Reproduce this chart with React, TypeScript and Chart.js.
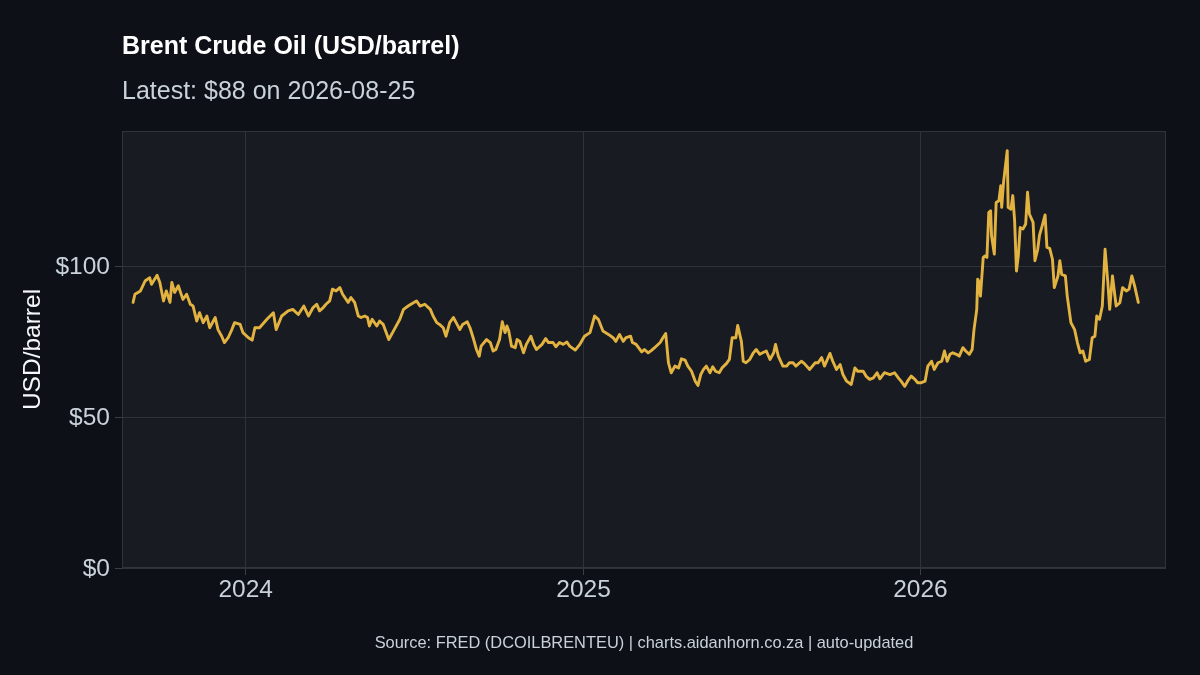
import React, { useEffect, useRef } from "react";
import { Chart, registerables } from "chart.js";

Chart.register(...registerables);

const TITLE = "Brent Crude Oil (USD/barrel)";
const SUBTITLE = "Latest: $88 on 2026-08-25";
const CAPTION = "Source: FRED (DCOILBRENTEU) | charts.aidanhorn.co.za | auto-updated";
const Y_TITLE = "USD/barrel";

const yTicks = [0, 50, 100];
const xTickYears = [2024, 2025, 2026];
const xRange = ["2023-08-20", "2026-09-24"];
const yMax = 144.8;

const dates = [
  "2023-09-01","2023-09-03","2023-09-09","2023-09-14","2023-09-19","2023-09-21","2023-09-27","2023-09-30",
  "2023-10-04","2023-10-07","2023-10-11","2023-10-13","2023-10-16","2023-10-20","2023-10-25","2023-10-29",
  "2023-11-02","2023-11-05","2023-11-09","2023-11-12","2023-11-16","2023-11-20","2023-11-23","2023-11-29",
  "2023-12-02","2023-12-06","2023-12-09","2023-12-13","2023-12-17","2023-12-20","2023-12-26","2023-12-29",
  "2024-01-04","2024-01-08","2024-01-11","2024-01-16","2024-01-24","2024-01-31",
  "2024-02-03","2024-02-09","2024-02-16","2024-02-21","2024-02-27",
  "2024-03-04","2024-03-09","2024-03-14","2024-03-18","2024-03-21","2024-03-25","2024-03-28",
  "2024-04-01","2024-04-04","2024-04-08","2024-04-12","2024-04-15","2024-04-21","2024-04-24","2024-04-28",
  "2024-05-02","2024-05-05","2024-05-09","2024-05-12","2024-05-14","2024-05-17","2024-05-22","2024-05-25","2024-05-29",
  "2024-06-04","2024-06-09","2024-06-16","2024-06-20","2024-06-25","2024-06-28",
  "2024-07-04","2024-07-08","2024-07-13","2024-07-19","2024-07-22","2024-07-26","2024-07-29",
  "2024-08-02","2024-08-05","2024-08-09","2024-08-13","2024-08-16","2024-08-20","2024-08-23","2024-08-28","2024-08-31",
  "2024-09-04","2024-09-07","2024-09-10","2024-09-12","2024-09-18","2024-09-22","2024-09-25","2024-09-28",
  "2024-10-02","2024-10-05","2024-10-08","2024-10-10","2024-10-12","2024-10-15","2024-10-19","2024-10-21","2024-10-24","2024-10-28","2024-10-31",
  "2024-11-05","2024-11-08","2024-11-11","2024-11-17","2024-11-21","2024-11-24","2024-11-29",
  "2024-12-02","2024-12-06","2024-12-10","2024-12-14","2024-12-17","2024-12-23","2024-12-28",
  "2025-01-02","2025-01-08","2025-01-13","2025-01-17","2025-01-22","2025-01-28",
  "2025-02-02","2025-02-05","2025-02-09","2025-02-13","2025-02-16","2025-02-21","2025-02-23","2025-02-27",
  "2025-03-05","2025-03-08","2025-03-12","2025-03-16","2025-03-19","2025-03-25","2025-03-28","2025-03-31",
  "2025-04-03","2025-04-06","2025-04-10","2025-04-14","2025-04-17","2025-04-21","2025-04-24","2025-04-28",
  "2025-05-02","2025-05-05","2025-05-08","2025-05-11","2025-05-14","2025-05-18","2025-05-21","2025-05-24","2025-05-28","2025-05-31",
  "2025-06-05","2025-06-08","2025-06-11","2025-06-15","2025-06-17","2025-06-21","2025-06-23","2025-06-26","2025-06-30",
  "2025-07-04","2025-07-07","2025-07-11","2025-07-14","2025-07-18","2025-07-22","2025-07-26","2025-07-28","2025-07-31",
  "2025-08-05","2025-08-09","2025-08-12","2025-08-16","2025-08-19","2025-08-25","2025-08-28",
  "2025-09-03","2025-09-09","2025-09-12","2025-09-16","2025-09-19","2025-09-25","2025-09-28",
  "2025-10-02","2025-10-06","2025-10-09","2025-10-13","2025-10-18","2025-10-22","2025-10-25","2025-10-31",
  "2025-11-03","2025-11-07","2025-11-11","2025-11-15","2025-11-18","2025-11-23","2025-11-29",
  "2025-12-04","2025-12-08","2025-12-11","2025-12-15","2025-12-18","2025-12-22","2025-12-26","2025-12-29",
  "2026-01-02","2026-01-06","2026-01-09","2026-01-13","2026-01-16","2026-01-20","2026-01-24","2026-01-27","2026-01-30",
  "2026-02-02","2026-02-05","2026-02-09","2026-02-12","2026-02-16","2026-02-19","2026-02-23","2026-02-26","2026-02-28",
  "2026-03-03","2026-03-04","2026-03-05","2026-03-07","2026-03-10","2026-03-12","2026-03-14","2026-03-16","2026-03-18",
  "2026-03-19","2026-03-22","2026-03-24","2026-03-27","2026-03-29","2026-03-30",
  "2026-04-01","2026-04-05","2026-04-06","2026-04-09","2026-04-11","2026-04-13","2026-04-15","2026-04-17","2026-04-19",
  "2026-04-22","2026-04-25","2026-04-27","2026-04-29",
  "2026-05-03","2026-05-05","2026-05-08","2026-05-10","2026-05-13","2026-05-16","2026-05-18","2026-05-21","2026-05-24",
  "2026-05-26","2026-05-30",
  "2026-06-01","2026-06-03","2026-06-07","2026-06-09","2026-06-13","2026-06-17","2026-06-20","2026-06-23","2026-06-26","2026-06-29",
  "2026-07-03","2026-07-06","2026-07-09","2026-07-11","2026-07-14","2026-07-17","2026-07-20","2026-07-23","2026-07-25","2026-07-28",
  "2026-08-01","2026-08-05","2026-08-08","2026-08-12","2026-08-15","2026-08-18","2026-08-21","2026-08-25",
];

const prices = [
  88.0, 90.7, 91.8, 95.1, 96.2, 94.0, 97.0, 94.6,
  88.5, 91.8, 88.0, 94.6, 91.3, 93.5, 89.0, 90.7,
  87.4, 86.8, 81.8, 84.6, 81.3, 83.5, 79.6, 83.0,
  79.0, 76.8, 74.7, 76.3, 79.0, 81.3, 80.7, 78.0,
  76.3, 75.5, 79.6, 79.6, 82.4, 84.6,
  79.0, 83.5, 85.2, 85.7, 84.0,
  86.8, 83.5, 86.3, 87.4, 85.2, 86.3, 87.4,
  88.5, 92.4, 91.8, 92.9, 90.7, 88.0, 89.6, 88.0,
  83.5, 83.0, 83.5, 83.0, 80.2, 82.4, 80.2, 81.8, 80.7,
  75.7, 78.5, 82.4, 85.7, 86.8, 87.4,
  88.5, 86.8, 87.4, 85.7, 83.5, 81.3, 80.7,
  79.6, 76.8, 81.3, 83.0, 81.3, 79.0, 80.7, 81.6, 79.6,
  75.7, 72.4, 70.2, 73.5, 75.7, 74.7, 71.9, 72.4,
  75.7, 81.6, 78.0, 80.2, 78.5, 73.5, 73.0, 75.7, 75.1, 71.3, 74.1,
  76.8, 74.1, 72.4, 74.1, 76.0, 74.7, 74.7,
  73.3, 74.7, 74.1, 74.9, 73.5, 72.2, 74.1,
  76.8, 78.0, 83.5, 82.4, 78.5, 77.4,
  76.3, 75.1, 77.4, 75.1, 76.3, 76.8, 74.7, 74.1,
  71.6, 72.4, 71.3, 72.2, 73.0, 74.7, 76.3, 77.7,
  68.0, 64.7, 66.9, 66.3, 69.3, 68.9, 66.9, 65.2,
  61.9, 60.5, 64.1, 65.8, 66.9, 64.7, 66.7, 65.2, 64.7, 66.3,
  67.8, 69.1, 76.3, 76.3, 80.4, 75.1, 68.5, 68.0, 69.1,
  71.3, 72.4, 70.8, 71.3, 71.9, 69.1, 71.3, 74.1, 70.2,
  66.9, 66.9, 68.0, 68.0, 66.9, 68.5, 67.8,
  65.8, 68.0, 68.0, 69.7, 66.9, 71.1, 68.5,
  65.8, 67.4, 64.1, 61.9, 60.8, 66.3, 65.2, 65.2,
  63.6, 62.5, 63.0, 64.7, 62.7, 64.7, 64.1,
  64.7, 63.0, 61.9, 60.2, 61.9, 63.6, 62.5, 61.4,
  61.4, 61.9, 66.9, 68.5, 65.8, 68.0, 68.5, 71.9, 68.5,
  70.8, 71.3, 70.8, 70.2, 73.0, 71.9, 70.8, 72.4, 79.0,
  85.7, 95.7, 95.1, 90.1, 102.9, 103.4, 102.9, 117.8, 118.4,
  110.1, 104.0, 121.1, 121.7, 126.7, 119.5,
  127.8, 138.3, 119.5, 118.9, 123.4, 115.1, 98.4, 103.4, 112.8,
  112.3, 114.0, 124.5, 117.3,
  114.5, 101.8, 105.6, 110.3, 113.5, 117.0, 106.2, 105.9, 102.3,
  92.9, 96.8,
  101.8, 97.3, 96.8, 90.1, 81.3, 79.0, 74.7, 71.3, 71.9, 68.5,
  69.1, 76.3, 76.8, 83.5, 82.4, 86.8, 105.6, 94.6, 85.7, 96.8,
  86.8, 87.9, 92.9, 91.8, 92.4, 96.8, 93.5, 88.0,
];

const FONT = "'Liberation Sans', Arial, Helvetica, sans-serif";
const PAGE_BG = "#0d1117";
const PANEL_BG = "#181b21";
const PANEL_BORDER = "#30353c";
const GRID = "#2e333a";
const TICK_MARK = "#3a3f46";
const LINE = "#e3b341";
const TEXT_MAIN = "#f5f7fa";
const TEXT_SUB = "#c9d1d9";

const toMs = (s: string) => {
  const [y, m, d] = s.split("-").map(Number);
  return Date.UTC(y, m - 1, d);
};

const decorPlugin = {
  id: "decor",
  beforeDraw(chart: any) {
    const { ctx, chartArea: a, width, height } = chart;
    ctx.save();
    ctx.fillStyle = PAGE_BG;
    ctx.fillRect(0, 0, width, height);
    ctx.fillStyle = PANEL_BG;
    ctx.fillRect(a.left, a.top, a.right - a.left, a.bottom - a.top);
    ctx.restore();
  },
  afterDraw(chart: any) {
    const { ctx, chartArea: a } = chart;
    ctx.save();
    ctx.strokeStyle = PANEL_BORDER;
    ctx.lineWidth = 1;
    ctx.strokeRect(a.left + 0.5, a.top + 0.5, a.right - a.left - 1, a.bottom - a.top - 1);

    ctx.textBaseline = "alphabetic";
    ctx.textAlign = "left";
    ctx.fillStyle = "#ffffff";
    ctx.font = `bold 25px ${FONT}`;
    ctx.fillText(TITLE, a.left, 54);
    ctx.fillStyle = TEXT_SUB;
    ctx.font = `25px ${FONT}`;
    ctx.fillText(SUBTITLE, a.left, 99);

    ctx.textAlign = "center";
    ctx.font = `16.4px ${FONT}`;
    ctx.fillText(CAPTION, (a.left + a.right) / 2, 648);
    ctx.restore();
  },
};

export default function App() {
  const ref = useRef<HTMLCanvasElement | null>(null);

  useEffect(() => {
    if (!ref.current) return;
    Chart.defaults.font.family = FONT;
    const points = dates.map((d, i) => ({ x: toMs(d), y: prices[i] }));
    const chart = new Chart(ref.current, {
      type: "line",
      data: {
        datasets: [
          {
            data: points,
            borderColor: LINE,
            borderWidth: 2.9,
            borderJoinStyle: "round",
            borderCapStyle: "round",
            pointRadius: 0,
            tension: 0,
            fill: false,
          },
        ],
      },
      options: {
        responsive: false,
        animation: false,
        devicePixelRatio: 1,
        layout: { padding: { left: 0, right: 34, top: 131, bottom: 57 } },
        plugins: {
          legend: { display: false },
          tooltip: { enabled: false },
          title: { display: false },
        },
        scales: {
          x: {
            type: "linear",
            min: toMs(xRange[0]),
            max: toMs(xRange[1]),
            afterBuildTicks: (scale: any) => {
              scale.ticks = xTickYears.map((y) => ({ value: Date.UTC(y, 0, 1) }));
            },
            afterFit: (scale: any) => {
              scale.height = 50;
            },
            ticks: {
              autoSkip: false,
              maxRotation: 0,
              padding: 1,
              color: TEXT_SUB,
              font: { size: 24.5 },
              callback: (v: any) => String(new Date(Number(v)).getUTCFullYear()),
            },
            grid: {
              color: GRID,
              tickColor: TICK_MARK,
              tickLength: 7,
              lineWidth: 1,
            },
            border: { display: false },
          },
          y: {
            type: "linear",
            min: 0,
            max: yMax,
            afterBuildTicks: (scale: any) => {
              scale.ticks = yTicks.map((v) => ({ value: v }));
            },
            afterFit: (scale: any) => {
              scale.width = 122;
            },
            ticks: {
              padding: 5,
              labelOffset: 1.5,
              color: TEXT_SUB,
              font: { size: 24.5 },
              callback: (v: any) => "$" + v,
            },
            grid: {
              color: GRID,
              tickColor: TICK_MARK,
              tickLength: 7,
              lineWidth: 1,
            },
            border: { display: false },
            title: {
              display: true,
              text: Y_TITLE,
              color: TEXT_MAIN,
              font: { size: 24.5 },
              padding: { top: 19, bottom: 0 },
            },
          },
        },
      },
      plugins: [decorPlugin],
    } as any);
    return () => chart.destroy();
  }, []);

  return (
    <div
      style={{
        position: "fixed",
        left: 0,
        top: 0,
        width: 1200,
        height: 675,
        background: PAGE_BG,
        overflow: "hidden",
      }}
    >
      <canvas ref={ref} width={1200} height={675} style={{ display: "block", width: 1200, height: 675 }} />
    </div>
  );
}
